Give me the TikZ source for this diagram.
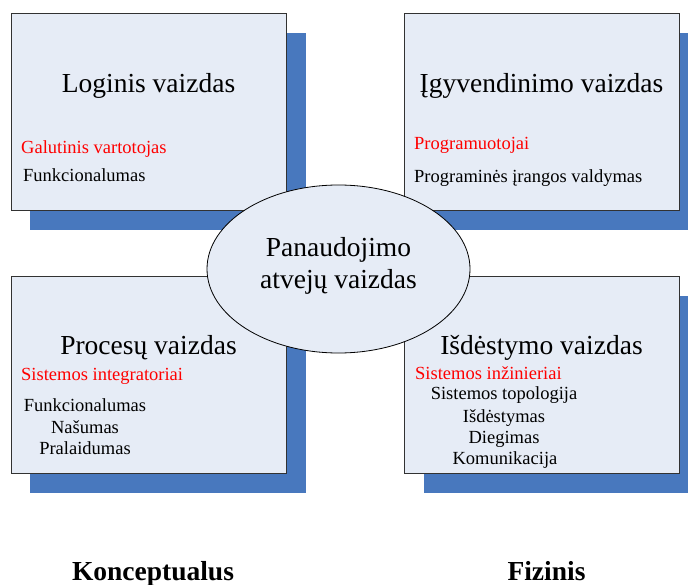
\documentclass[tikz,border=0pt]{standalone}
\usepackage{fontspec}
\setmainfont{Liberation Serif}
\usetikzlibrary{shapes.geometric}
\definecolor{boxfill}{RGB}{230,236,246}
\definecolor{shadowblue}{RGB}{72,120,190}
\definecolor{edgegray}{RGB}{50,50,50}
\begin{document}
\begin{tikzpicture}[x=1pt,y=-1pt,
  shadowbox/.style={fill=shadowblue,draw=none},
  viewbox/.style={fill=boxfill,draw=edgegray,line width=0.9pt},
  title/.style={anchor=base,inner sep=0pt,font=\fontsize{27.5}{32}\selectfont},
  role/.style={anchor=base west,inner sep=0pt,text=red,font=\fontsize{18.5}{21}\selectfont},
  item/.style={inner sep=0pt,font=\fontsize{18.5}{21}\selectfont},
  footer/.style={anchor=base,inner sep=0pt,font=\bfseries\fontsize{27.5}{32}\selectfont}]
\useasboundingbox (0,0) rectangle (688,585);

% shadows
\fill[shadowblue] (30,33) rectangle (306,230);
\fill[shadowblue] (424,33) rectangle (688,230);
\fill[shadowblue] (30,296) rectangle (306,493);
\fill[shadowblue] (424,296) rectangle (688,493);

% the four views
\draw[viewbox] (11,13) rectangle (286,210);
\draw[viewbox] (404,13) rectangle (679,210);
\draw[viewbox] (11,276) rectangle (286,473);
\draw[viewbox] (404,276) rectangle (679,473);

% logical view
\node[title] (log) at (148.5,93) {Loginis vaizdas};
\node[role] (logr) at (21,154) {Galutinis vartotojas};
\node[item,anchor=base west] (logi) at (23,182) {Funkcionalumas};

% implementation view
\node[title] (impl) at (541.5,93) {Įgyvendinimo vaizdas};
\node[role] (implr) at (414,150) {Programuotojai};
\node[item,anchor=base west] (impli) at (414,183) {Programinės įrangos valdymas};

% process view
\node[title] (proc) at (148.5,354) {Procesų vaizdas};
\node[role] (procr) at (21,380) {Sistemos integratoriai};
\node[item,anchor=base] (proci1) at (85,411) {Funkcionalumas};
\node[item,anchor=base] (proci2) at (85,433) {Našumas};
\node[item,anchor=base] (proci3) at (85,454) {Pralaidumas};

% deployment view
\node[title] (dep) at (541.5,354) {Išdėstymo vaizdas};
\node[role] (depr) at (415,379) {Sistemos inžinieriai};
\node[item,anchor=base] (depi1) at (504,399) {Sistemos topologija};
\node[item,anchor=base] (depi2) at (504,422) {Išdėstymas};
\node[item,anchor=base] (depi3) at (504,443) {Diegimas};
\node[item,anchor=base] (depi4) at (505,464) {Komunikacija};

% use case view in the middle
\draw[fill=boxfill,draw=black,line width=0.8pt] (338.5,269) ellipse [x radius=131.5,y radius=84];
\node[title] (uc1) at (338.5,257) {Panaudojimo};
\node[title] (uc2) at (338.5,289) {atvejų vaizdas};

% column captions
\node[footer] (conc) at (153,580) {Konceptualus};
\node[footer] (phys) at (546.5,580) {Fizinis};
\end{tikzpicture}
\end{document}
